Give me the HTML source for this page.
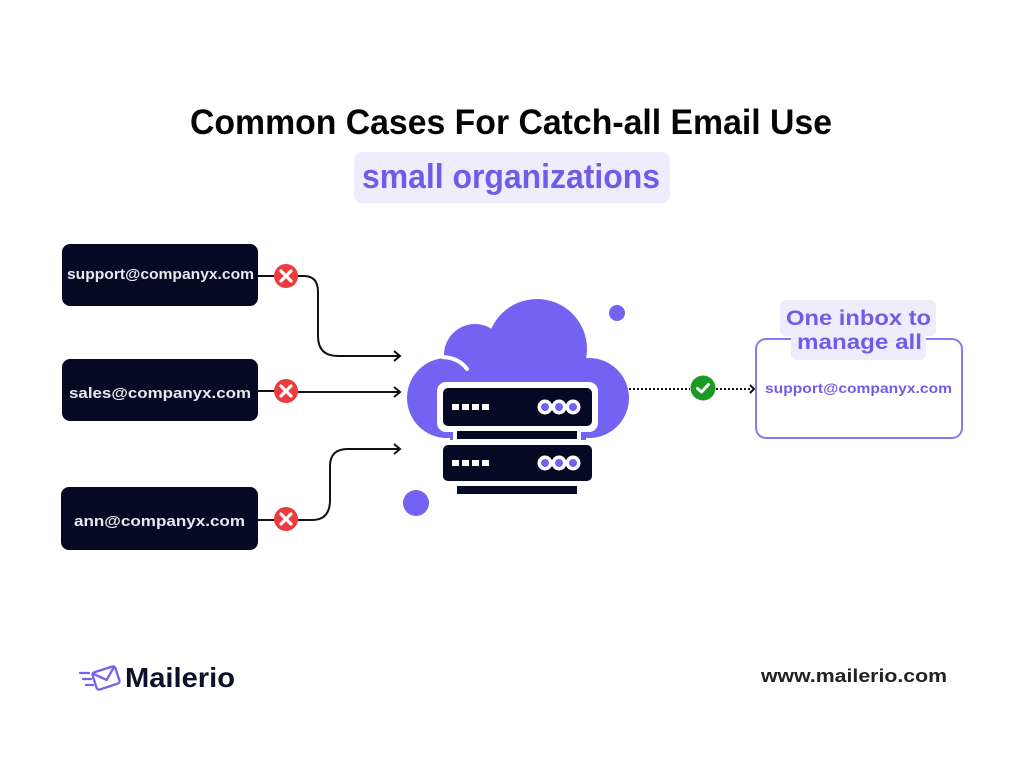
<!DOCTYPE html>
<html><head><meta charset="utf-8"><style>
html,body{margin:0;padding:0;background:#fff;width:1024px;height:768px;overflow:hidden}
svg{display:block}
text{font-family:"Liberation Sans",sans-serif;font-weight:bold}
</style></head><body>
<svg width="1024" height="768" viewBox="0 0 1024 768" xmlns="http://www.w3.org/2000/svg">
<rect width="1024" height="768" fill="#ffffff"/>
<!-- Title -->
<text x="190" y="134" font-size="35" fill="#050505" textLength="642" lengthAdjust="spacingAndGlyphs">Common Cases For Catch-all Email Use</text>
<rect x="354" y="152" width="316" height="51" rx="8" fill="#efecfe"/>
<text x="362" y="188" font-size="34" fill="#6f5de9" textLength="298" lengthAdjust="spacingAndGlyphs">small organizations</text>

<!-- Left boxes -->
<rect x="62" y="244" width="196" height="62" rx="8" fill="#050a24"/>
<text x="67" y="279" font-size="14.5" fill="#e8e9f0" textLength="187" lengthAdjust="spacingAndGlyphs">support@companyx.com</text>
<rect x="62" y="359" width="196" height="62" rx="8" fill="#050a24"/>
<text x="69" y="398" font-size="14.5" fill="#e8e9f0" textLength="182" lengthAdjust="spacingAndGlyphs">sales@companyx.com</text>
<rect x="61" y="487" width="197" height="63" rx="8" fill="#050a24"/>
<text x="74" y="526" font-size="14.5" fill="#e8e9f0" textLength="171" lengthAdjust="spacingAndGlyphs">ann@companyx.com</text>

<!-- connectors -->
<g fill="none" stroke="#111" stroke-width="2">
  <line x1="258" y1="276" x2="276" y2="276"/>
  <path d="M298 276 H304 Q318 276 318 292 V336 Q318 356 338 356 H400"/>
  <polyline points="394,351 400,356 394,361"/>
  <line x1="258" y1="391" x2="276" y2="391"/>
  <line x1="298" y1="392" x2="400" y2="392"/>
  <polyline points="394,387 400,392 394,397"/>
  <line x1="258" y1="520" x2="276" y2="520"/>
  <path d="M298 520 H312 Q330 520 330 500 V466 Q330 449 348 449 H400"/>
  <polyline points="394,444 400,449 394,454"/>
</g>
<!-- red X circles -->
<g>
  <circle cx="286" cy="276" r="12" fill="#ea3b3f"/>
  <circle cx="286" cy="391" r="12" fill="#ea3b3f"/>
  <circle cx="286" cy="519" r="12" fill="#ea3b3f"/>
  <g stroke="#fff" stroke-width="3.2" stroke-linecap="round">
    <path d="M281 271 L291 281 M291 271 L281 281"/>
    <path d="M281 386 L291 396 M291 386 L281 396"/>
    <path d="M281 514 L291 524 M291 514 L281 524"/>
  </g>
</g>

<!-- cloud -->
<defs><clipPath id="cc"><rect x="380" y="280" width="280" height="160"/></clipPath></defs>
<g fill="#7462f3" clip-path="url(#cc)">
  <circle cx="537" cy="349" r="50"/>
  <circle cx="475" cy="355" r="31"/>
  <circle cx="447" cy="398" r="40"/>
  <circle cx="589" cy="398" r="40"/>
  <rect x="450" y="365" width="136" height="80"/>
</g>
<path d="M443 357 Q459 358 467 369" fill="none" stroke="#fff" stroke-width="4" stroke-linecap="round"/>
<circle cx="617" cy="313" r="8" fill="#7462f3"/>
<circle cx="416" cy="503" r="13" fill="#7462f3"/>

<!-- servers -->
<rect x="437" y="382" width="161" height="50" rx="9" fill="#fff"/>
<rect x="453" y="428" width="128" height="15" fill="#fff"/>
<rect x="443" y="388" width="149" height="38" rx="5" fill="#050a24"/>
<rect x="457" y="431" width="120" height="8" fill="#050a24"/>
<rect x="443" y="445" width="149" height="36" rx="5" fill="#050a24"/>
<rect x="457" y="486" width="120" height="8" fill="#050a24"/>
<g fill="#fff">
  <rect x="452" y="404" width="7" height="6"/><rect x="462" y="404" width="7" height="6"/><rect x="472" y="404" width="7" height="6"/><rect x="482" y="404" width="7" height="6"/>
  <rect x="452" y="460" width="7" height="6"/><rect x="462" y="460" width="7" height="6"/><rect x="472" y="460" width="7" height="6"/><rect x="482" y="460" width="7" height="6"/>
  <circle cx="545" cy="407" r="7.5"/><circle cx="559" cy="407" r="7.5"/><circle cx="573" cy="407" r="7.5"/>
  <circle cx="545" cy="463" r="7.5"/><circle cx="559" cy="463" r="7.5"/><circle cx="573" cy="463" r="7.5"/>
</g>
<g fill="#7462f3">
  <circle cx="545" cy="407" r="4"/><circle cx="559" cy="407" r="4"/><circle cx="573" cy="407" r="4"/>
  <circle cx="545" cy="463" r="4"/><circle cx="559" cy="463" r="4"/><circle cx="573" cy="463" r="4"/>
</g>

<!-- dotted connector -->
<g stroke="#111" stroke-width="2" stroke-dasharray="2 2" fill="none">
  <line x1="629" y1="389" x2="690" y2="389"/>
  <line x1="716" y1="389" x2="752" y2="389"/>
</g>
<polyline points="750,385 754,389 750,393" fill="none" stroke="#111" stroke-width="2"/>
<circle cx="703" cy="388" r="12.5" fill="#1c9a22"/>
<path d="M697.5 388.5 L701.5 392 L708.5 384.5" fill="none" stroke="#fff" stroke-width="3" stroke-linecap="round" stroke-linejoin="round"/>

<!-- right box -->
<rect x="756" y="339" width="206" height="99" rx="10" fill="none" stroke="#8a78f0" stroke-width="2"/>
<rect x="780" y="300" width="156" height="36" rx="6" fill="#efecfe"/>
<rect x="791" y="330" width="135" height="30" rx="5" fill="#efecfe"/>
<text x="786" y="325" font-size="21" fill="#6f5de9" textLength="145" lengthAdjust="spacingAndGlyphs">One inbox to</text>
<text x="797" y="349" font-size="21" fill="#6f5de9" textLength="125" lengthAdjust="spacingAndGlyphs">manage all</text>
<text x="765" y="393" font-size="14" fill="#6f5de9" textLength="187" lengthAdjust="spacingAndGlyphs">support@companyx.com</text>

<!-- logo -->
<g fill="none" stroke="#7a5ff0" stroke-width="2.3" stroke-linecap="round" stroke-linejoin="round">
  <g transform="rotate(-18 106 678)">
    <rect x="94" y="669" width="24" height="18" rx="2.5"/>
    <polyline points="95,670 106,680 117,670"/>
  </g>
  <line x1="80" y1="673" x2="89" y2="673"/>
  <line x1="83" y1="679" x2="91" y2="679"/>
  <line x1="86" y1="685" x2="93" y2="685"/>
</g>
<text x="125" y="687" font-size="28" fill="#0d1026" textLength="110" lengthAdjust="spacingAndGlyphs">Mailerio</text>
<text x="761" y="682" font-size="18.5" fill="#222226" textLength="186" lengthAdjust="spacingAndGlyphs">www.mailerio.com</text>
</svg>
</body></html>
